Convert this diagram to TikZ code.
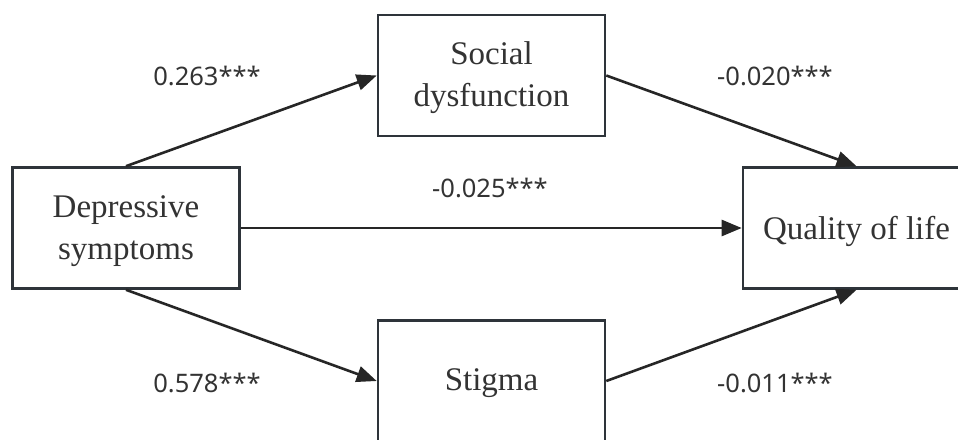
\documentclass[tikz,border=0pt]{standalone}
\usepackage{fontspec}
\setmainfont{Liberation Serif}
\newfontfamily\labfont{Noto Sans}
\usetikzlibrary{arrows.meta}
\definecolor{boxline}{HTML}{2E343A}
\definecolor{txt}{HTML}{333333}
\definecolor{arr}{HTML}{262626}
\tikzset{
  box/.style={draw=boxline, line width=2.6pt, minimum width=227pt, minimum height=121pt,
    inner sep=0pt, align=center, text=txt, font=\fontsize{33}{42}\selectfont},
  boxtext/.style={inner sep=0pt, align=center, text=txt, font=\fontsize{33}{42}\selectfont},
  conn/.style={draw=arr, line width=2.6pt, -{Triangle[length=20pt,width=16pt]}},
  lab/.style={text=txt, font=\labfont\fontsize{25.5}{28}\selectfont, inner sep=0pt}
}
\begin{document}
\begin{tikzpicture}[x=1pt,y=-1pt]
\useasboundingbox (0,0) rectangle (958,439);
\clip (0,0) rectangle (958,439);
\node[box] (dep) at (126,228) {};
\node[box] (soc) at (491.5,75.5) {};
\node[box] (sti) at (491.5,381) {};
\node[box] (qol) at (856.5,228) {};
\node[boxtext] (tdep) at (126,231) {Depressive\\symptoms};
\node[boxtext] (tsoc) at (491.5,78) {Social\\dysfunction};
\node[boxtext] (tsti) at (491.5,383) {Stigma};
\node[boxtext] (tqol) at (856.5,231) {Quality of life};
\draw[conn] (dep.north) -- (soc.west);
\draw[conn] (soc.east) -- (qol.north);
\draw[conn] (dep.east) -- (qol.west);
\draw[conn] (dep.south) -- (sti.west);
\draw[conn] (sti.east) -- (qol.south);
\node[lab] (l1) at (207,76) {0.263***};
\node[lab] (l2) at (775,76) {-0.020***};
\node[lab] (l3) at (490,188) {-0.025***};
\node[lab] (l4) at (207,383) {0.578***};
\node[lab] (l5) at (775,383) {-0.011***};
\end{tikzpicture}
\end{document}
